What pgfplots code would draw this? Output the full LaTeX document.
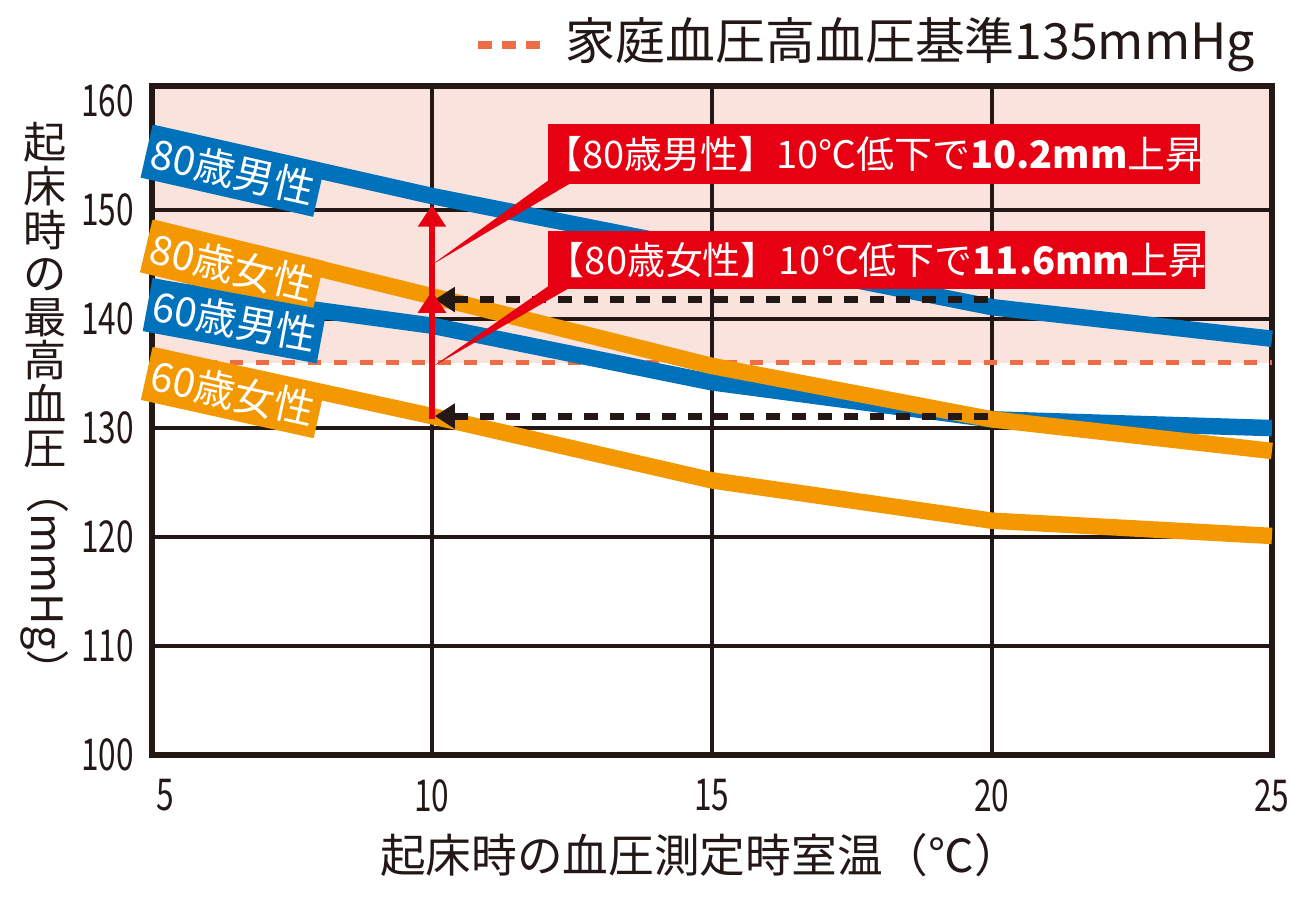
\documentclass[border=0pt]{standalone}
\usepackage{fontspec}
\setmainfont{Noto Sans CJK JP}
\newfontfamily\tickfont[FakeStretch=0.72]{Noto Sans CJK JP}
\usepackage{pgfplots}
\pgfplotsset{compat=1.18}
\usetikzlibrary{arrows.meta}

\definecolor{gridc}{HTML}{231815}
\definecolor{bluec}{HTML}{0072BC}
\definecolor{orangec}{HTML}{F39800}
\definecolor{redc}{HTML}{E60012}
\definecolor{pinkc}{HTML}{FBE3DD}
\definecolor{refc}{HTML}{ED6D46}

\begin{document}
\begin{tikzpicture}
\path (0,0) rectangle (12.93,9.01);
\begin{axis}[
  at={(1.52cm,1.46cm)}, anchor=south west,
  scale only axis, width=11.2cm, height=6.69cm,
  xmin=5, xmax=25, ymin=100, ymax=161.4,
  xtick={5,10,15,20,25},
  xticklabels={\hspace*{0.26cm}5,10,15,20,25},
  ytick={100,110,...,150},
  extra y ticks={160}, extra tick style={grid=none},
  grid=major,
  grid style={line width=1.3pt, gridc},
  axis line style={line width=1.8pt, gridc},
  major tick length=0pt,
  tick label style={font=\tickfont\fontsize{12.5}{13}\selectfont, text=gridc, inner sep=1pt},
  /pgf/number format/assume math mode=true,
  xticklabel style={yshift=-0.2cm},
  yticklabel style={xshift=-0.14cm},
  clip=false, set layers,
]
% pink zone above the reference line
\addplot[draw=none, fill=pinkc, on layer=axis background]
  coordinates {(5,136)(25,136)(25,161.4)(5,161.4)} -- cycle;

% home BP reference line
\addplot[refc, line width=0.055cm, dash pattern=on 0.13cm off 0.13cm]
  coordinates {(5,136)(25,136)};

% 80 male
\addplot[bluec, line width=0.165cm, line join=round]
  coordinates {(5,157.1)(10,151.3)(15,146.2)(20,141.1)(25,138.2)};
% 60 male
\addplot[bluec, line width=0.165cm, line join=round]
  coordinates {(5,142.9)(10,139.4)(15,134.2)(20,130.8)(25,130.0)};
% 60 female
\addplot[orangec, line width=0.165cm, line join=round]
  coordinates {(5,136.7)(10,131.1)(15,125.2)(20,121.5)(25,120.1)};
% 80 female
\addplot[orangec, line width=0.165cm, line join=round]
  coordinates {(5,148.4)(10,142.1)(15,135.7)(20,130.8)(25,127.9)};

% dashed comparison arrows
\draw[gridc, line width=0.07cm, dash pattern=on 0.14cm off 0.12cm,
  -{Triangle[width=0.24cm,length=0.2cm]}] (19.93,141.8) -- (10.05,141.8);
\draw[gridc, line width=0.07cm, dash pattern=on 0.14cm off 0.12cm,
  -{Triangle[width=0.24cm,length=0.2cm]}] (19.93,131.1) -- (10.05,131.1);

% red rise arrow
\draw[redc, line width=0.065cm, -{Triangle[width=0.27cm,length=0.22cm]}] (10,130.8) -- (10,142.6);
\draw[redc, line width=0.065cm, -{Triangle[width=0.27cm,length=0.22cm]}] (10,142.2) -- (10,150.5);

% callouts
\fill[redc] (12.07,152.7) -- (12.55,152.7) -- (10.0,145.0) -- cycle;
\fill[redc] (12.07,143.0) -- (12.5,143.0) -- (10.0,135.6) -- cycle;
\fill[redc] (12.07,152.4) rectangle (23.71,157.9);
\fill[redc] (12.07,142.75) rectangle (23.8,148.1);
\node[text=white, font=\fontsize{10.8}{12}\selectfont] at (17.89,155.15)
  {【80歳男性】10℃低下で\textbf{10.2mm}上昇};
\node[text=white, font=\fontsize{10.8}{12}\selectfont] at (17.94,145.4)
  {【80歳女性】10℃低下で\textbf{11.6mm}上昇};

% series labels
\node[fill=bluec, text=white, rotate=-12.8, anchor=north west, minimum width=1.77cm,
  minimum height=0.54cm, inner sep=0, font=\fontsize{11.5}{12}\selectfont] at (5.0,157.9) {80歳男性};
\node[fill=orangec, text=white, rotate=-13.5, anchor=north west, minimum width=1.77cm,
  minimum height=0.54cm, inner sep=0, font=\fontsize{11.5}{12}\selectfont] at (5.0,149.2) {80歳女性};
\node[fill=bluec, text=white, rotate=-10.5, anchor=north west, minimum width=1.77cm,
  minimum height=0.54cm, inner sep=0, font=\fontsize{11.5}{12}\selectfont] at (5.0,143.85) {60歳男性};
\node[fill=orangec, text=white, rotate=-12.5, anchor=north west, minimum width=1.77cm,
  minimum height=0.54cm, inner sep=0, font=\fontsize{11.5}{12}\selectfont] at (5.0,137.5) {60歳女性};
\end{axis}

% axis titles
\node[anchor=north, align=center, inner sep=0, text=gridc,
  font=\fontsize{12.3}{12.4}\selectfont] at (0.45,7.79) {起\\床\\時\\の\\最\\高\\血\\圧};
\node[anchor=west, rotate=-90, inner sep=0, text=gridc,
  font=\fontsize{12.3}{12.4}\selectfont] at (0.45,4.31) {（mmHg）};
\node[text=gridc, font=\fontsize{13}{14}\selectfont] at (7.0,0.46) {起床時の血圧測定時室温（℃）};

% legend
\draw[refc, line width=0.08cm, dash pattern=on 0.14cm off 0.1cm] (4.78,8.56) -- (5.40,8.56);
\node[anchor=west, inner sep=0, text=gridc, font=\fontsize{14.2}{15}\selectfont] at (5.65,8.56)
  {家庭血圧高血圧基準135mmHg};
\end{tikzpicture}
\end{document}
